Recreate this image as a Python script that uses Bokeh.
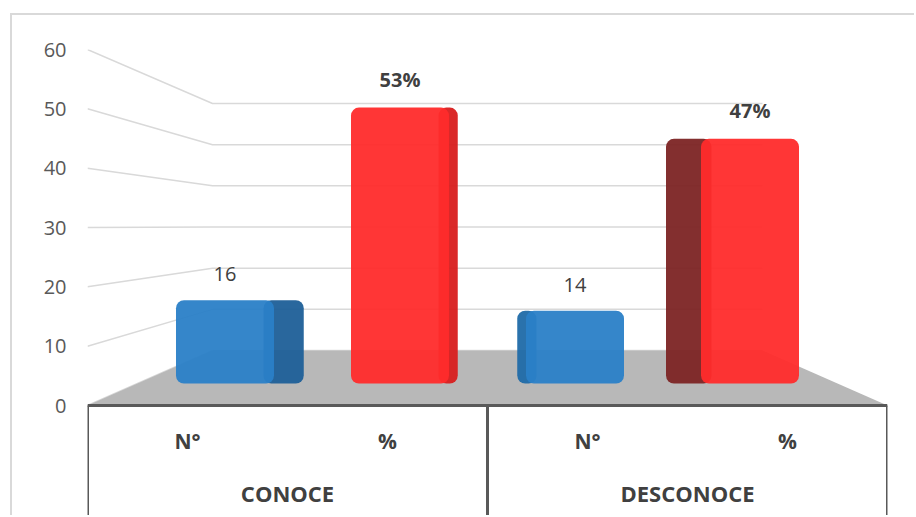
from bokeh.plotting import figure
from bokeh.models import FactorRange, Range1d, FixedTicker
from bokeh.core.properties import value
from bokeh.embed import file_html
from bokeh.resources import INLINE

# ---- data ----
groups = ["CONOCE", "DESCONOCE"]
subcats = ["N°", "%"]
counts = [16, 14]
percents = [53, 47]
y_ticks = [0, 10, 20, 30, 40, 50, 60]

factors = [(g, s) for g in groups for s in subcats]
vals = [counts[0], percents[0], counts[1], percents[1]]
count_factors = [(g, "N°") for g in groups]
pct_factors = [(g, "%") for g in groups]
count_labels = [str(c) for c in counts]
pct_labels = [f"{v}%" for v in percents]

BLUE = "#2a7fc7"
RED = "#ff2b2b"
BLUE_SIDE = "#1d5f98"
RED_SIDE = "#7c2424"
colors = [BLUE, RED, BLUE, RED]
side_colors = [BLUE_SIDE, "#d81e1e", "#1f6aa8", RED_SIDE]
FONT = value("Open Sans")
TXT = "#404040"

# ---- figure ----
p = figure(
    width=904, height=502,
    x_range=FactorRange(*factors, factor_padding=0, group_padding=0, range_padding=0),
    y_range=Range1d(-18.87, 60),
    output_backend="svg", toolbar_location=None,
    min_border_left=75, min_border_right=29, min_border_top=34, min_border_bottom=0,
)
p.margin = (13, 0, 0, 10)
p.styles = {"border-top": "2px solid #d9d9d9", "border-left": "2px solid #d9d9d9"}
p.outline_line_color = None
p.xgrid.visible = False
p.ygrid.visible = False
p.xaxis.visible = False

# extra ranges for the bar "depth" plane (perspective)
p.extra_x_ranges = {"depth": FactorRange(*factors, factor_padding=0, group_padding=0,
                                         range_padding=0.2857, range_padding_units="absolute")}
p.extra_y_ranges = {"depth": Range1d(-25.73, 64.16)}

yax = p.yaxis[0]
yax.ticker = FixedTicker(ticks=y_ticks)
yax.axis_line_color = None
yax.major_tick_line_color = None
yax.minor_tick_line_color = None
yax.major_tick_out = 0
yax.major_label_standoff = 21
yax.major_label_text_font = "Open Sans"
yax.major_label_text_font_size = "20px"
yax.major_label_text_color = "#595959"

# perspective gridlines (left wall -> back wall)
floor_back = 9.27
back_scale = 0.6938
bx0, bx1 = 0.625, 3.375
gx, gy = [], []
for t in y_ticks:
    by = floor_back + t * back_scale
    gx.append([0, bx0, bx1])
    gy.append([t, by, by])
p.multi_line(gx, gy, line_color="#d9d9d9", line_width=1.5)

# floor
p.patch([0, bx0, bx1, 4], [0, floor_back, floor_back, 0], fill_color="#b8b8b8", line_color=None)

# bar side faces (perspective), then front faces
front_w = 0.56
side_w = [0.17, 0.05, 0.05, 0.2]
side_dir = [1, 1, -1, -1]
side_x = [f + (d * (front_w / 2 + w / 2 - 0.03),) for f, w, d in zip(factors, side_w, side_dir)]
p.vbar(x=side_x, top=vals, bottom=0, width=[w + 0.06 for w in side_w], fill_color=side_colors,
       fill_alpha=0.95, line_color=None, x_range_name="depth", y_range_name="depth",
       border_radius=8)
p.vbar(x=factors, top=vals, bottom=0, width=front_w, fill_color=colors, fill_alpha=0.95,
       line_color=None, x_range_name="depth", y_range_name="depth", border_radius=8)

# data labels
p.text(x=count_factors, y=counts, text=count_labels, x_range_name="depth", y_range_name="depth",
       y_offset=-26, text_align="center", text_baseline="middle", text_font=FONT,
       text_font_size="20px", text_color=TXT)
p.text(x=pct_factors, y=percents, text=pct_labels, x_range_name="depth", y_range_name="depth",
       y_offset=-28, text_align="center", text_baseline="middle", text_font=FONT,
       text_font_size="20px", text_font_style="bold", text_color=TXT)

# category axis drawn in the extended frame
p.segment(x0=[0], y0=[0], x1=[4], y1=[0], line_color="#595959", line_width=3)
p.segment(x0=[0, 2, 4], y0=[0, 0, 0], x1=[0, 2, 4], y1=[-30, -30, -30],
          line_color="#595959", line_width=3)
p.text(x=factors, y=[-5.9] * 4, text=[f[1] for f in factors], text_align="center",
       text_baseline="middle", text_font=FONT, text_font_size="21px", text_font_style="bold",
       text_color=TXT)
p.text(x=groups, y=[-14.7] * 2, text=groups, text_align="center",
       text_baseline="middle", text_font=FONT, text_font_size="22px", text_font_style="bold",
       text_color=TXT)

open("out.html", "w").write(file_html(p, INLINE))
